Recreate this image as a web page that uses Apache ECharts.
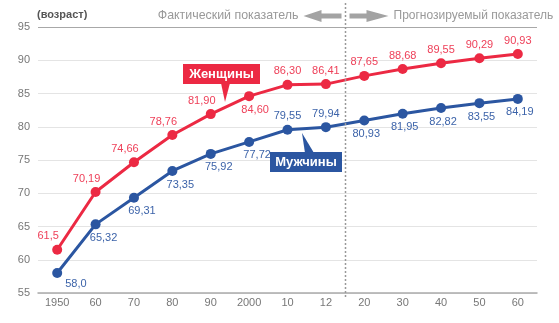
<!DOCTYPE html>
<html>
<head>
<meta charset="utf-8">
<script src="https://cdn.jsdelivr.net/npm/echarts@6/dist/echarts.min.js"></script>
<style>
html, body { margin: 0; padding: 0; background: #fff; }
#chart { width: 559px; height: 323px; }
</style>
</head>
<body>
<div id="chart"></div>
<script>
var years = ['1950', '60', '70', '80', '90', '2000', '10', '12', '20', '30', '40', '50', '60'];
var women = [61.5, 70.19, 74.66, 78.76, 81.90, 84.60, 86.30, 86.41, 87.65, 88.68, 89.55, 90.29, 90.93];
var men = [58.0, 65.32, 69.31, 73.35, 75.92, 77.72, 79.55, 79.94, 80.93, 81.95, 82.82, 83.55, 84.19];
var yTicks = [55, 60, 65, 70, 75, 80, 85, 90, 95];

var RED = '#ec2943', BLUE = '#2b56a1';
var RED_TXT = '#ee4059', BLUE_TXT = '#3c63a9';
var FONT = '"Liberation Sans", Arial, sans-serif';

function fmt(p) {
    var d = p.dataIndex === 0 ? 1 : 2;
    return p.value.toFixed(d).replace('.', ',');
}

// women labels sit above, men labels below (with a few exceptions)
var womenData = women.map(function (v, i) {
    var lab = { position: 'top', offset: [i < 6 ? -9 : 0, 0] };
    if (i === 5) lab = { position: 'bottom', offset: [6, 0] };
    return { value: v, label: lab };
});
var menData = men.map(function (v, i) {
    var lab = { position: 'bottom', offset: [i < 6 ? 8 : 2, 0] };
    if (i === 0) lab = { position: 'right', offset: [0, 11] };
    if (i === 6 || i === 7) lab = { position: 'top', offset: [0, 0] };
    return { value: v, label: lab };
});

var myChart = echarts.init(document.querySelector('#chart'));

var gridColors = yTicks.map(function (t, i) {
    return i === yTicks.length - 1 ? '#a8a8a8' : '#e4e4e4';
});

var option = {
    animation: false,
    textStyle: { fontFamily: FONT },
    grid: { left: 38, right: 22, top: 27, bottom: 30 },
    xAxis: {
        type: 'category',
        data: years,
        boundaryGap: true,
        axisLine: { lineStyle: { color: '#aaa', width: 1.5 } },
        axisTick: { alignWithLabel: true, inside: true, length: 5, lineStyle: { color: '#bbb' } },
        axisLabel: { color: '#777', fontSize: 11, margin: 4, fontFamily: FONT, interval: 0 }
    },
    yAxis: {
        type: 'value',
        min: 55, max: 95, interval: 5,
        axisLine: { show: false },
        axisTick: { show: false },
        axisLabel: { color: '#777', fontSize: 11, margin: 8, fontFamily: FONT },
        splitLine: { lineStyle: { color: gridColors, width: 1.2 } }
    },
    series: [{
        name: 'Женщины',
        type: 'line',
        data: womenData,
        symbol: 'circle',
        symbolSize: 10,
        itemStyle: { color: RED },
        lineStyle: { color: RED, width: 3 },
        label: { show: true, distance: 3, color: RED_TXT, fontSize: 11, fontFamily: FONT, formatter: fmt }
    }, {
        name: 'Мужчины',
        type: 'line',
        data: menData,
        symbol: 'circle',
        symbolSize: 10,
        itemStyle: { color: BLUE },
        lineStyle: { color: BLUE, width: 3 },
        label: { show: true, distance: 3, color: BLUE_TXT, fontSize: 11, fontFamily: FONT, formatter: fmt }
    }]
};
myChart.setOption(option);

// split line between "12" and "20"
var xa = myChart.convertToPixel({ xAxisIndex: 0 }, 7);
var xb = myChart.convertToPixel({ xAxisIndex: 0 }, 8);
var xs = Math.round((xa + xb) / 2) + 0.5;

function callout(x, y, w, h, text, color, tri) {
    return {
        type: 'group',
        children: [
            { type: 'polygon', shape: { points: tri }, style: { fill: color } },
            { type: 'rect', shape: { x: x, y: y, width: w, height: h }, style: { fill: color } },
            { type: 'text', x: x + w / 2, y: y + h / 2,
              style: { text: text, fill: '#fff', fontSize: 13, fontWeight: 'bold', fontFamily: FONT,
                       align: 'center', verticalAlign: 'middle' } }
        ]
    };
}

myChart.setOption({
    graphic: [
        { type: 'text', left: 37, top: 9,
          style: { text: '(возраст)', fill: '#555', fontSize: 11, fontWeight: 'bold', fontFamily: FONT } },
        { type: 'text', x: xs - 47, y: 16,
          style: { text: 'Фактический показатель', fill: '#999', fontSize: 12.4, fontFamily: FONT,
                   align: 'right', verticalAlign: 'middle' } },
        { type: 'polygon',
          shape: { points: [[xs - 42, 16], [xs - 24, 10], [xs - 24, 13.5], [xs - 4, 13.5], [xs - 4, 18.5], [xs - 24, 18.5], [xs - 24, 22]] },
          style: { fill: '#a3a3a3' } },
        { type: 'polygon',
          shape: { points: [[xs + 4, 13.5], [xs + 21, 13.5], [xs + 21, 10], [xs + 43, 16], [xs + 21, 22], [xs + 21, 18.5], [xs + 4, 18.5]] },
          style: { fill: '#a3a3a3' } },
        { type: 'text', x: xs + 48, y: 16,
          style: { text: 'Прогнозируемый показатель', fill: '#999', fontSize: 12, fontFamily: FONT,
                   align: 'left', verticalAlign: 'middle' } },
        { type: 'line', z: 50,
          shape: { x1: xs, y1: 3, x2: xs, y2: 297 },
          style: { stroke: '#999', lineWidth: 1.5, lineDash: [2, 2] } },
        callout(183, 64, 77, 20, 'Женщины', RED, [[221, 83], [230, 83], [225, 102]]),
        callout(270, 152, 72, 20, 'Мужчины', BLUE, [[305, 153], [314, 153], [302, 133]])
    ]
});
</script>
</body>
</html>
